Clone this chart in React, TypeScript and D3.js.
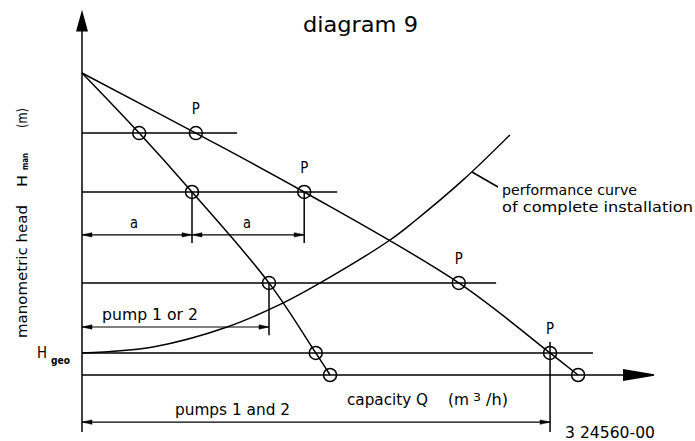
import React from "react";
import * as d3 from "d3";

// ---- data (Q in % of axis, H in % of shut-off head) ----
const Q_SINGLE = [0, 10.4, 20.0, 34.0, 42.5, 45.1];
const H_SINGLE = [100, 80.1, 60.6, 30.5, 7.3, 0];
const Q_PARALLEL = [0, 20.7, 40.4, 68.5, 85.1, 90.2];
const H_PARALLEL = [100, 80.1, 60.6, 30.5, 7.3, 0];
const Q_SYSTEM = [0, 12.9, 26.4, 36.5, 43.3, 56.0, 60.5, 69.3, 77.8];
const H_SYSTEM = [7.3, 9.3, 15.9, 23.8, 30.5, 44.7, 51.0, 64.6, 79.5];
const H_LEVELS = [80.1, 60.6, 30.5, 7.3];
const Q_LEVEL_END = [28.2, 46.4, 75.3, 92.9];
const DIM_Q0 = [0, 20.0, 0, 0];
const DIM_Q1 = [20.0, 40.4, 34.0, 85.1];
const DIM_H = [46.4, 46.4, 15.9, -15.6];
const EXT_Q = [20.0, 40.4, 34.0, 85.1];
const EXT_H0 = [60.6, 60.6, 30.5, 10.9];
const EXT_H1 = [43.7, 43.7, 13.2, -18.9];
const P_INDEX = [1, 2, 3, 4];

const W = 695, H = 441;
const x = d3.scaleLinear().domain([0, 104]).range([82, 654]);
const y = d3.scaleLinear().domain([0, 120]).range([375, 12.6]);

const FONT = "DejaVu Sans, sans-serif";
const SW = 1.5;

function T({ px, py, size, w, children, weight, anchor }: any) {
  return (
    <text x={px} y={py} fontSize={size} fontFamily={FONT} fontWeight={weight || "normal"}
      textLength={w} lengthAdjust="spacingAndGlyphs" textAnchor={anchor || "start"} fill="#000">
      {children}
    </text>
  );
}

export default function App() {
  const line = d3.line<[number, number]>().x(d => x(d[0])).y(d => y(d[1])).curve(d3.curveCatmullRom.alpha(0.5));
  const single = line(Q_SINGLE.map((q, i) => [q, H_SINGLE[i]]));
  const parallel = line(Q_PARALLEL.map((q, i) => [q, H_PARALLEL[i]]));
  const system = line(Q_SYSTEM.map((q, i) => [q, H_SYSTEM[i]]));

  const arrowH = (xt: number, yt: number, dir: number, len: number, hw: number) =>
    `M${xt},${yt}L${xt - dir * len},${yt - hw}L${xt - dir * len},${yt + hw}Z`;

  const x0 = x(0);
  return (
    <svg width={W} height={H} style={{ position: "absolute", left: 0, top: 0, background: "#fff" }}>
      <g stroke="#000" strokeWidth={SW} fill="none">
        {/* axes */}
        <line x1={x0} y1={y(-18.9)} x2={x0} y2={y(114)} />
        <path d={`M${x0},${y(120)}L${x0 - 5},${y(114)}L${x0 + 5},${y(114)}Z`} fill="#000" />
        <line x1={x0} y1={y(0)} x2={x(98.5)} y2={y(0)} />
        <path d={arrowH(x(104), y(0), 1, x(104) - x(98.5), 5)} fill="#000" />
        {/* operating levels */}
        {H_LEVELS.map((h, i) => (
          <line key={"l" + i} x1={x0} y1={y(h)} x2={x(Q_LEVEL_END[i])} y2={y(h)} />
        ))}
        {/* curves */}
        <path d={single || ""} />
        <path d={parallel || ""} />
        <path d={system || ""} />
        {/* extension lines */}
        {EXT_Q.map((q, i) => (
          <line key={"e" + i} x1={x(q)} y1={y(EXT_H0[i])} x2={x(q)} y2={y(EXT_H1[i])} />
        ))}
        {/* dimension lines */}
        {DIM_Q0.map((q0, i) => (
          <g key={"d" + i}>
            <line x1={x(q0)} y1={y(DIM_H[i])} x2={x(DIM_Q1[i])} y2={y(DIM_H[i])} strokeWidth={1.2} />
            <path d={arrowH(x(q0), y(DIM_H[i]), -1, 10, 2.2)} fill="#000" strokeWidth={0.5} />
            <path d={arrowH(x(DIM_Q1[i]), y(DIM_H[i]), 1, 10, 2.2)} fill="#000" strokeWidth={0.5} />
          </g>
        ))}
        {/* circles */}
        {Q_SINGLE.slice(1).map((q, i) => (
          <circle key={"cs" + i} cx={x(q)} cy={y(H_SINGLE[i + 1])} r={6.5} />
        ))}
        {Q_PARALLEL.slice(1).map((q, i) => (
          <circle key={"cp" + i} cx={x(q)} cy={y(H_PARALLEL[i + 1])} r={6.5} />
        ))}
        {/* leader */}
        <line x1={472} y1={172} x2={498} y2={187} />
      </g>
      {/* P labels */}
      {P_INDEX.map(i => (
        <T key={"p" + i} px={x(Q_PARALLEL[i]) - 4} py={y(H_PARALLEL[i]) - 19} size={16} w={8}>P</T>
      ))}
      <T px={303} py={32} size={22} w={115}>diagram 9</T>
      <T px={130} py={228} size={16} w={8}>a</T>
      <T px={243} py={228} size={16} w={8}>a</T>
      <T px={102} py={320} size={15} w={96}>pump 1 or 2</T>
      <T px={175} py={415} size={15} w={115}>pumps 1 and 2</T>
      <T px={347} py={405} size={16} w={81}>capacity Q</T>
      <T px={448} py={405} size={16} w={21}>(m</T>
      <T px={473} py={401} size={11} w={8}>3</T>
      <T px={486} py={405} size={16} w={22}>/h)</T>
      <T px={565} py={438} size={16} w={90}>3 24560-00</T>
      <T px={502} py={195} size={14} w={135}>performance curve</T>
      <T px={502} py={212} size={14} w={191}>of complete installation</T>
      <T px={37} py={358} size={15} w={10}>H</T>
      <T px={51} py={364} size={11} w={19} weight="bold">geo</T>
      <g transform="translate(27,338) rotate(-90)">
        <T px={0} py={0} size={14} w={133}>manometric head</T>
        <T px={151} py={0} size={14} w={12}>H</T>
        <T px={168} py={1} size={9} w={17} weight="bold">man</T>
        <T px={210} py={0} size={14} w={20}>(m)</T>
      </g>
    </svg>
  );
}
